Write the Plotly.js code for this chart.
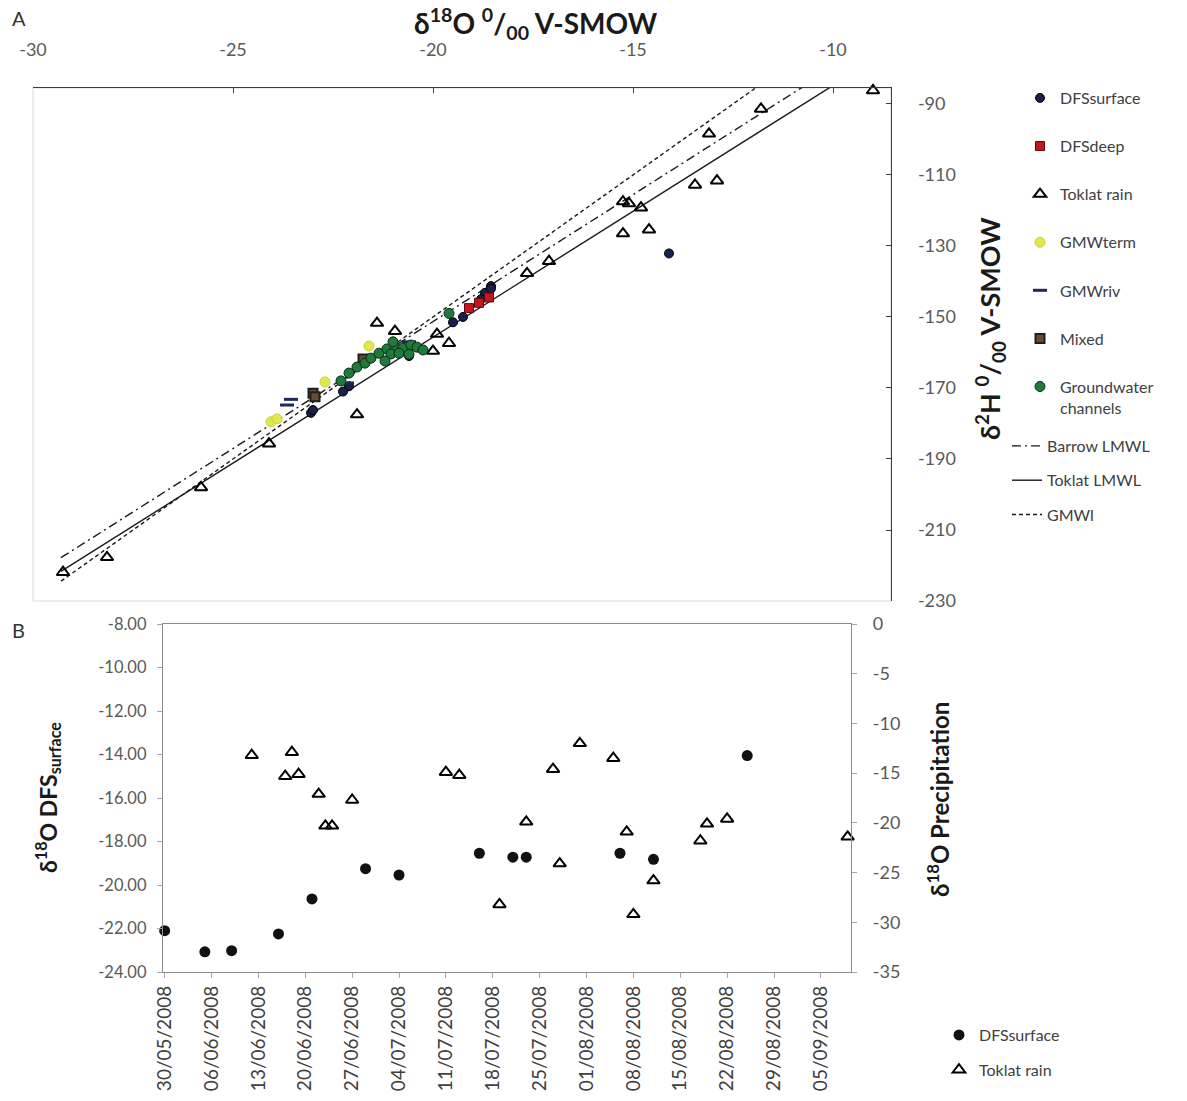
<!DOCTYPE html>
<html><head><meta charset="utf-8">
<script src="https://cdn.plot.ly/plotly-3.0.1.min.js"></script>
<style>html,body{margin:0;padding:0;background:#fff}</style>
</head><body><div id="chart" style="width:1187px;height:1101px"></div>
<script>
// ---------- Panel A data (δ18O, δ2H) ----------
const dfsSurfaceA_d18O = [-22.1, -23.05, -23.0, -22.25, -20.6, -19.25, -19.5, -18.55, -18.7, -18.7, -18.55, -18.8, -14.1];
const dfsSurfaceA_d2H  = [-169.5, -177.0, -176.2, -171.0, -161.0, -150.0, -151.5, -141.3, -144.0, -143.2, -142.0, -145.0, -132.1];
const dfsDeepA_d18O = [-19.1, -18.85, -18.6];
const dfsDeepA_d2H  = [-147.5, -146.0, -144.5];
const toklatRainA_d18O = [-29.25, -28.15, -25.8, -24.1, -21.9, -21.4, -20.95, -19.9, -19.6, -20.0, -17.65, -17.1, -15.25, -14.6, -15.25, -15.1, -14.8, -13.45, -12.9, -13.1, -11.8, -9.0];
const toklatRainA_d2H  = [-221.9, -217.7, -198.0, -185.7, -177.5, -151.7, -154.0, -154.8, -157.4, -159.6, -137.7, -134.3, -126.5, -125.4, -117.5, -118.0, -119.2, -112.8, -111.6, -98.4, -91.4, -86.2];
const gmwTermA_d18O = [-24.05, -23.9, -22.7, -21.6];
const gmwTermA_d2H  = [-179.5, -178.7, -168.3, -158.2];
const gmwRivA_d18O = [-23.65, -23.55, -22.15, -21.2, -20.6];
const gmwRivA_d2H  = [-174.8, -173.2, -168.6, -159.5, -157.0];
const mixedA_d18O = [-23.0, -22.95, -21.75];
const mixedA_d2H  = [-171.5, -172.5, -161.8];
const groundwaterA_d18O = [-22.1, -21.9, -21.7, -21.55, -21.35, -21.15, -20.95, -20.75, -20.55, -20.4, -20.25, -21.05, -20.85, -21.2, -19.6, -22.3, -21.0, -20.6];
const groundwaterA_d2H  = [-165.8, -164.1, -163.0, -161.6, -160.2, -159.0, -158.5, -158.8, -157.9, -158.5, -159.3, -160.4, -160.2, -162.4, -149.0, -168.0, -157.0, -160.5];

// Meteoric water lines: [slope, intercept], drawn across this δ18O span
const lineNames = ['Barrow LMWL', 'Toklat LMWL', 'GMWl'];
const lineSlopes = [7.15, 7.09, 8.0];
const lineIntercepts = [-8.3, -13.9, 10.0];
const lineSpan = [-29.3, -8.0];

// ---------- Panel B data ----------
const dfsDates = ['2008-05-30','2008-06-05','2008-06-09','2008-06-16','2008-06-21','2008-06-29','2008-07-04','2008-07-16','2008-07-21','2008-07-23','2008-08-06','2008-08-11','2008-08-25'];
const dfsSurfaceB = [-22.1, -23.07, -23.02, -22.25, -20.64, -19.25, -19.54, -18.54, -18.72, -18.72, -18.54, -18.82, -14.05];
const rainDates = ['2008-06-12','2008-06-17','2008-06-18','2008-06-19','2008-06-22','2008-06-23','2008-06-24','2008-06-27','2008-07-11','2008-07-13','2008-07-19','2008-07-23','2008-07-27','2008-07-28','2008-07-31','2008-08-05','2008-08-07','2008-08-08','2008-08-11','2008-08-18','2008-08-19','2008-08-22','2008-09-09'];
const toklatRainB = [-13.2, -15.3, -12.9, -15.1, -17.1, -20.3, -20.3, -17.7, -14.9, -15.2, -28.2, -19.9, -14.6, -24.1, -12.0, -13.5, -20.9, -29.2, -25.8, -21.8, -20.1, -19.6, -21.4];

// tick labels
const aXTicks = [-30, -25, -20, -15, -10];
const aXLabels = ['-30', '-25', '-20', '-15', '-10'];
const aYTicks = [-230, -210, -190, -170, -150, -130, -110, -90];
const aYLabels = ['-230', '-210', '-190', '-170', '-150', '-130', '-110', '-90'];
const bYTicks = [-24, -22, -20, -18, -16, -14, -12, -10, -8];
const bYLabels = ['-24.00', '-22.00', '-20.00', '-18.00', '-16.00', '-14.00', '-12.00', '-10.00', '-8.00'];
const bY2Ticks = [-35, -30, -25, -20, -15, -10, -5, 0];
const bY2Labels = ['-35', '-30', '-25', '-20', '-15', '-10', '-5', '0'];

const W = 1187, H = 1101;
const FONT = 'Lato, "Open Sans", sans-serif';
const px = v => v / W, py = v => 1 - v / H;

const data = [];
// lines first (drawn beneath the markers)
const dashes = ['9px,4px,2px,4px', 'solid', '4px,3px'];
lineNames.forEach((n, i) => {
  const xs = lineSpan.slice();
  const ys = xs.map(x => lineSlopes[i] * x + lineIntercepts[i]);
  data.push({type: 'scatter', mode: 'lines', name: n, x: xs, y: ys, xaxis: 'x', yaxis: 'y',
    line: {color: '#1a1a1a', width: 1.4, dash: dashes[i]}, legend: 'legend2', legendgroup: 'l' + i});
});
const mk = (name, xs, ys, marker, g) => ({type: 'scatter', mode: 'markers', name, x: xs, y: ys,
  xaxis: 'x', yaxis: 'y', marker, cliponaxis: false, legend: 'legend', legendgroup: g});
data.push(mk('DFSsurface', dfsSurfaceA_d18O, dfsSurfaceA_d2H, {symbol: 'circle', size: 9, color: '#1b1f4b', line: {color: '#000', width: 1}}, 'a1'));
data.push(mk('DFSdeep', dfsDeepA_d18O, dfsDeepA_d2H, {symbol: 'square', size: 9, color: '#c4161c', line: {color: '#5a0a0a', width: 1}}, 'a2'));
data.push(mk('Toklat rain', toklatRainA_d18O, toklatRainA_d2H, {symbol: 'triangle-up-open', size: 11, color: '#000', line: {color: '#000', width: 2}}, 'a3'));
data.push(mk('GMWterm', gmwTermA_d18O, gmwTermA_d2H, {symbol: 'circle', size: 10, color: '#dfe94e', line: {color: '#c9d23c', width: 1}}, 'a4'));
data.push(mk('GMWriv', gmwRivA_d18O, gmwRivA_d2H, {symbol: 'line-ew-open', size: 10, color: '#1d2859', line: {color: '#1d2859', width: 3}}, 'a5'));
data.push(mk('Mixed', mixedA_d18O, mixedA_d2H, {symbol: 'square', size: 9, color: '#6b4a32', line: {color: '#1f1f1f', width: 2}}, 'a6'));
data.push(mk('Groundwater<br>channels', groundwaterA_d18O, groundwaterA_d2H, {symbol: 'circle', size: 10, color: '#1f7a3c', line: {color: '#0b2b14', width: 1}}, 'a7'));

// panel B
data.push({type: 'scatter', mode: 'markers', name: 'DFSsurface', x: dfsDates, y: dfsSurfaceB, xaxis: 'x2', yaxis: 'y2',
  marker: {symbol: 'circle', size: 11, color: '#111'}, cliponaxis: false, legend: 'legend3', legendgroup: 'b1'});
data.push({type: 'scatter', mode: 'markers', name: 'Toklat rain', x: rainDates, y: toklatRainB, xaxis: 'x2', yaxis: 'y3',
  marker: {symbol: 'triangle-up-open', size: 11, color: '#000', line: {color: '#000', width: 2}}, cliponaxis: false, legend: 'legend3', legendgroup: 'b2'});

const tickFontA = {family: FONT, size: 18, color: '#595959'};
const layout = {
  width: W, height: H, autosize: false,
  margin: {l: 0, r: 0, t: 0, b: 0},
  paper_bgcolor: '#fff', plot_bgcolor: '#fff',
  font: {family: FONT, color: '#404040'},
  showlegend: true,
  xaxis: {domain: [px(33), px(891)], anchor: 'y', side: 'top', range: [-30, -8.55],
    tickvals: aXTicks, ticktext: aXLabels, tickfont: tickFontA, ticks: 'inside', ticklen: 5, tickcolor: '#404040',
    ticklabelstandoff: 24, showline: true, linecolor: '#3a3a3a', linewidth: 1.3, showgrid: false, zeroline: false},
  yaxis: {domain: [py(601), py(88)], anchor: 'x', side: 'right', range: [-230, -85.5],
    tickvals: aYTicks, ticktext: aYLabels, tickfont: tickFontA, ticks: 'inside', ticklen: 5, tickcolor: '#404040',
    ticklabelstandoff: 22, showline: true, linecolor: '#3a3a3a', linewidth: 1.3, showgrid: false, zeroline: false},
  xaxis2: {domain: [px(163), px(851)], anchor: 'y2', type: 'date',
    range: ['2008-05-29 18:00', '2008-09-09 12:00'], tick0: '2008-05-30', dtick: 604800000,
    tickformat: '%d/%m/%Y', tickangle: -90, tickfont: {family: FONT, size: 19, color: '#404040'},
    ticks: 'outside', ticklen: 5, tickcolor: '#a6a6a6', showline: true, mirror: true,
    linecolor: '#8c8c8c', linewidth: 1.2, showgrid: false, zeroline: false},
  yaxis2: {domain: [py(972), py(624)], anchor: 'x2', range: [-24, -8],
    tickvals: bYTicks, ticktext: bYLabels, tickfont: {family: FONT, size: 16.5, color: '#595959'},
    ticks: 'outside', ticklen: 5, tickcolor: '#a6a6a6', ticklabelstandoff: 7,
    showline: true, linecolor: '#8c8c8c', linewidth: 1.2, showgrid: false, zeroline: false},
  yaxis3: {overlaying: 'y2', anchor: 'x2', side: 'right', range: [-35, 0],
    tickvals: bY2Ticks, ticktext: bY2Labels, tickfont: {family: FONT, size: 18, color: '#595959'},
    ticks: 'outside', ticklen: 5, tickcolor: '#a6a6a6', ticklabelstandoff: 12,
    showline: true, linecolor: '#8c8c8c', linewidth: 1.2, showgrid: false, zeroline: false},
  legend: {x: px(1020), y: py(81), xanchor: 'left', yanchor: 'top', bgcolor: 'rgba(0,0,0,0)',
    font: {family: FONT, size: 16, color: '#404040'}, tracegroupgap: 24.3, valign: 'top', itemwidth: 30},
  legend2: {x: px(1007), y: py(429), xanchor: 'left', yanchor: 'top', bgcolor: 'rgba(0,0,0,0)',
    font: {family: FONT, size: 16, color: '#404040'}, tracegroupgap: 10.5},
  legend3: {x: px(939), y: py(1018), xanchor: 'left', yanchor: 'top', bgcolor: 'rgba(0,0,0,0)',
    font: {family: FONT, size: 16, color: '#404040'}, tracegroupgap: 11},
  shapes: [
    {type: 'rect', xref: 'x domain', yref: 'y domain', x0: 0, x1: 1, y0: 0, y1: 1,
     line: {color: '#d9d9d9', width: 1}, layer: 'below'}
  ],
  annotations: [
    {text: 'A', xref: 'paper', yref: 'paper', x: px(10), y: py(18), xanchor: 'left', yanchor: 'middle', showarrow: false,
     font: {family: FONT, size: 20, color: '#333'}},
    {text: 'B', xref: 'paper', yref: 'paper', x: px(10), y: py(630), xanchor: 'left', yanchor: 'middle', showarrow: false,
     font: {family: FONT, size: 20, color: '#333'}},
    {text: '<b>δ<sup>18</sup>O <sup>0</sup>/<sub>00</sub> V-SMOW</b>', xref: 'paper', yref: 'paper', x: px(536), y: py(24),
     xanchor: 'center', yanchor: 'middle', showarrow: false, font: {family: FONT, size: 28, color: '#1a1a1a'}},
    {text: '<b>δ<sup>2</sup>H <sup>0</sup>/<sub>00</sub> V-SMOW</b>', xref: 'paper', yref: 'paper', x: px(990), y: py(328),
     xanchor: 'center', yanchor: 'middle', textangle: -90, showarrow: false, font: {family: FONT, size: 27, color: '#1a1a1a'}},
    {text: '<b>δ<sup>18</sup>O DFS<sub>surface</sub></b>', xref: 'paper', yref: 'paper', x: px(47), y: py(798),
     xanchor: 'center', yanchor: 'middle', textangle: -90, showarrow: false, font: {family: FONT, size: 23, color: '#1a1a1a'}},
    {text: '<b>δ<sup>18</sup>O Precipitation</b>', xref: 'paper', yref: 'paper', x: px(938), y: py(800),
     xanchor: 'center', yanchor: 'middle', textangle: -90, showarrow: false, font: {family: FONT, size: 24, color: '#1a1a1a'}}
  ]
};
Plotly.newPlot('chart', data, layout, {displayModeBar: false, staticPlot: true});
</script></body></html>
